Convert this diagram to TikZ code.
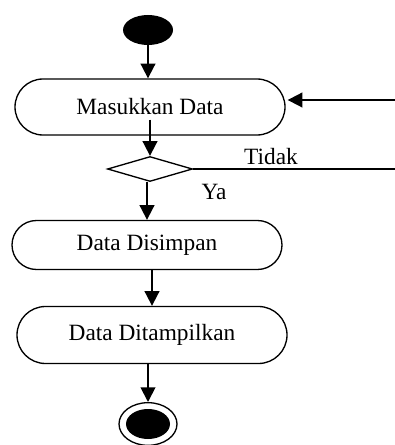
\documentclass[tikz,border=0pt]{standalone}
\usepackage{fontspec}
\setmainfont{Liberation Serif}
\usetikzlibrary{shapes.geometric,shapes.misc,arrows.meta}
\begin{document}
\begin{tikzpicture}[x=0.75pt, y=-0.75pt]
  \useasboundingbox (0, 0) rectangle (395, 445);  % Rahmen wie Vorlage.
  \tikzstyle{action}=[rounded rectangle, draw, line width=1pt, minimum width=202.5pt, inner sep=0pt, fill=white, font=\fontsize{17.5}{20}\selectfont]
  \tikzstyle{start}=[ellipse, fill=black, minimum width=37.5pt, minimum height=22.5pt, inner sep=0pt]
  \tikzstyle{decision}=[diamond, draw, line width=1pt, minimum width=63.75pt, minimum height=18.75pt, inner sep=0pt, fill=white]
  \tikzstyle{flow}=[line width=1.4pt, -{Triangle[length=11pt, width=11pt]}]
  \tikzstyle{label}=[inner sep=1pt, font=\fontsize{17.5}{20}\selectfont]

  \node[start] (start) at (148, 30) {};
  \node[action, minimum height=42pt] (masuk) at (150, 107) {\raisebox{-3pt}{Masukkan Data}};
  \node[decision] (cek) at (150, 169) {};
  \node[action, minimum height=36.75pt] (simpan) at (147, 245) {\raisebox{-4pt}{Data Disimpan}};
  \node[action, minimum height=42.75pt] (tampil) at (152, 335) {\raisebox{-2pt}{Data Ditampilkan}};
  \node[ellipse, draw, line width=1pt, minimum width=43.5pt, minimum height=32pt, inner sep=0pt] (akhir) at (148, 424) {};
  \node[ellipse, fill=black, minimum width=33pt, minimum height=22.5pt, inner sep=0pt] at (akhir) {};
  \coordinate (masukKanan) at (395, 100);
  \coordinate (tidakKanan) at (395, 169);

  \draw[flow] (start) -- (start |- masuk.north);
  \draw[flow] ([yshift=12pt]masuk.south) -- (cek.north);
  \draw[flow] (masukKanan) -- ([xshift=1.5pt]masuk.east |- masukKanan);
  \draw[line width=1.4pt] (cek.east) -- (tidakKanan);
  \draw[flow] (cek.south -| simpan) -- (simpan.north);
  \draw[flow] (simpan.south -| tampil) -- (tampil.north -| tampil);
  \draw[flow] (tampil.south -| akhir) -- (akhir.north);

  \node[label] at (271, 157) {Tidak};
  \node[label] at (214, 192) {Ya};
\end{tikzpicture}
\end{document}
